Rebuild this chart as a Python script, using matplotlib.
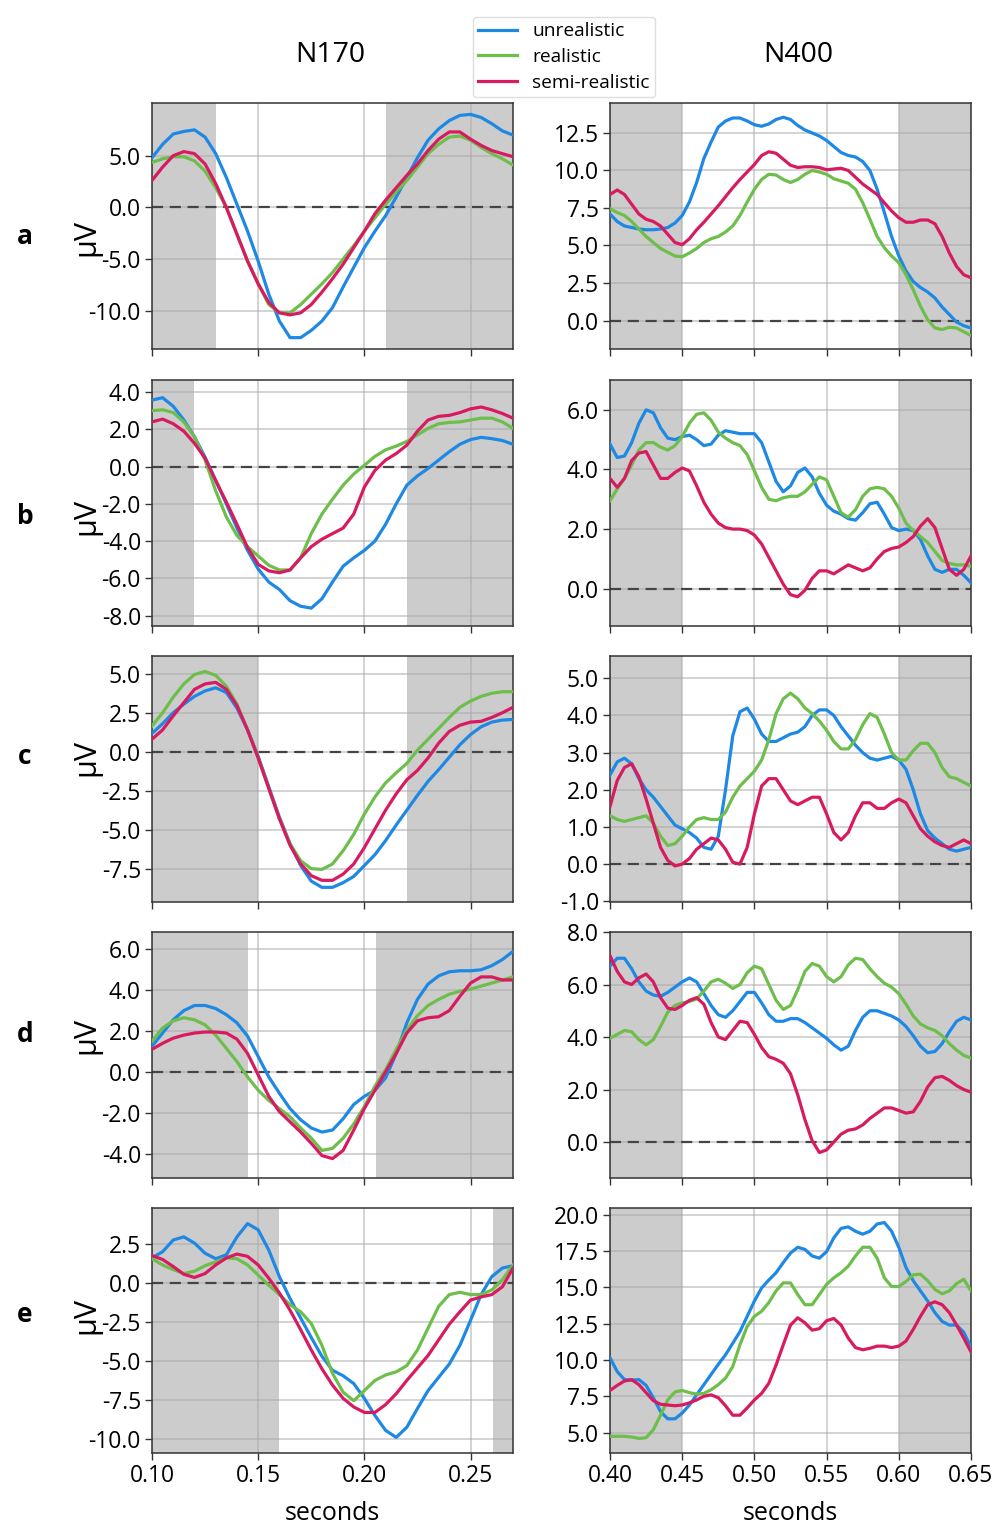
import numpy as np
import matplotlib
matplotlib.use("Agg")
import matplotlib.pyplot as plt

plt.rcParams['font.family'] = ['Open Sans', 'DejaVu Sans']

# sample times (s)
t170 = np.linspace(0.10, 0.27, 35)
t400 = np.linspace(0.40, 0.65, 51)

# ---- row a ----
a170_u = [4.8, 6.1, 7.1, 7.35, 7.5,
          6.8, 5.2, 2.9, 0.3, -2.3,
          -5.2, -8.4, -11.0, -12.6, -12.6,
          -11.9, -11.0, -9.7, -7.7, -5.8,
          -3.9, -2.3, -0.8, 1.0, 2.9,
          4.8, 6.5, 7.6, 8.4, 8.9,
          9.0, 8.7, 8.1, 7.4, 7.0]
a170_r = [4.35, 4.7, 4.9, 4.9, 4.5,
          3.5, 1.9, 0.0, -2.6, -5.2,
          -7.4, -9.4, -10.2, -10.2, -9.4,
          -8.4, -7.4, -6.3, -5.0, -3.7,
          -2.3, -1.0, 0.3, 1.5, 2.6,
          3.9, 5.2, 6.1, 6.8, 6.9,
          6.5, 5.8, 5.2, 4.7, 4.1]
a170_s = [2.6, 3.9, 5.0, 5.4, 5.2,
          4.2, 2.3, 0.0, -2.6, -5.2,
          -7.4, -9.2, -10.2, -10.4, -10.2,
          -9.4, -8.2, -6.9, -5.5, -3.9,
          -2.3, -0.6, 0.7, 1.9, 3.1,
          4.2, 5.5, 6.6, 7.3, 7.3,
          6.6, 6.0, 5.5, 5.2, 4.9]
a400_u = [7.1, 6.6, 6.3, 6.2, 6.1,
          6.05, 6.05, 6.1, 6.2, 6.5,
          7.0, 7.9, 9.2, 10.8, 11.9,
          12.9, 13.3, 13.5, 13.5, 13.3,
          13.05, 12.95, 13.1, 13.4, 13.55,
          13.4, 13.0, 12.7, 12.5, 12.3,
          12.0, 11.6, 11.2, 11.0, 10.9,
          10.6, 10.0, 8.75, 7.2, 5.6,
          4.3, 3.3, 2.6, 2.2, 1.9,
          1.5, 0.9, 0.4, -0.1, -0.35,
          -0.5]
a400_r = [7.45, 7.2, 7.0, 6.6, 6.1,
          5.6, 5.2, 4.8, 4.55, 4.3,
          4.25, 4.5, 4.8, 5.2, 5.45,
          5.6, 5.9, 6.3, 7.0, 7.9,
          8.75, 9.4, 9.75, 9.7, 9.4,
          9.2, 9.4, 9.75, 10.0, 9.9,
          9.75, 9.45, 9.3, 9.15, 8.75,
          7.85, 6.75, 5.6, 4.85, 4.3,
          3.85, 3.05, 2.05, 0.95, 0.05,
          -0.5, -0.6, -0.45, -0.5, -0.75,
          -1.0]
a400_s = [8.4, 8.7, 8.4, 7.75, 7.1,
          6.75, 6.6, 6.3, 5.75, 5.2,
          5.05, 5.45, 6.05, 6.55, 7.1,
          7.65, 8.25, 8.85, 9.4, 9.9,
          10.4, 11.0, 11.25, 11.15, 10.75,
          10.35, 10.2, 10.25, 10.25, 10.2,
          10.05, 10.1, 10.15, 10.0, 9.55,
          9.1, 8.75, 8.4, 7.85, 7.3,
          6.85, 6.55, 6.55, 6.7, 6.7,
          6.45, 5.6, 4.5, 3.6, 3.05,
          2.85]

# ---- row b ----
b170_u = [3.57, 3.7, 3.24, 2.5, 1.6,
          0.5, -0.75, -2.0, -3.3, -4.5,
          -5.5, -6.2, -6.6, -7.2, -7.5,
          -7.6, -7.1, -6.2, -5.35, -4.9,
          -4.5, -4.0, -3.1, -2.0, -1.0,
          -0.5, -0.1, 0.35, 0.8, 1.2,
          1.45, 1.57, 1.5, 1.4, 1.2]
b170_r = [3.0, 3.05, 2.9, 2.4, 1.6,
          0.35, -1.3, -2.7, -3.7, -4.3,
          -4.8, -5.3, -5.55, -5.55, -4.9,
          -3.6, -2.55, -1.75, -1.0, -0.4,
          0.07, 0.55, 0.9, 1.1, 1.35,
          1.7, 2.05, 2.3, 2.37, 2.4,
          2.5, 2.6, 2.6, 2.4, 2.05]
b170_s = [2.4, 2.55, 2.3, 1.9, 1.25,
          0.45, -0.75, -1.9, -3.1, -4.35,
          -5.25, -5.6, -5.7, -5.55, -4.9,
          -4.3, -3.9, -3.6, -3.3, -2.55,
          -1.1, -0.2, 0.35, 0.7, 1.15,
          1.9, 2.5, 2.7, 2.75, 2.9,
          3.1, 3.2, 3.05, 2.85, 2.6]
b400_u = [4.85, 4.4, 4.45, 4.9, 5.55,
          6.0, 5.9, 5.4, 5.05, 5.0,
          5.1, 5.15, 5.0, 4.8, 4.85,
          5.15, 5.3, 5.25, 5.2, 5.2,
          5.2, 4.9, 4.25, 3.6, 3.25,
          3.45, 3.9, 4.05, 3.75, 3.2,
          2.8, 2.6, 2.5, 2.35, 2.3,
          2.55, 2.85, 2.9, 2.5, 2.05,
          1.95, 2.0, 1.95, 1.65, 1.1,
          0.65, 0.55, 0.65, 0.65, 0.45,
          0.2]
b400_r = [2.95, 3.35, 3.7, 4.15, 4.65,
          4.9, 4.9, 4.75, 4.65, 4.8,
          5.1, 5.55, 5.85, 5.9, 5.65,
          5.25, 5.05, 4.9, 4.8, 4.5,
          3.95, 3.4, 3.0, 2.95, 3.05,
          3.1, 3.1, 3.25, 3.5, 3.75,
          3.65, 3.1, 2.55, 2.4, 2.65,
          3.1, 3.35, 3.4, 3.35, 3.1,
          2.7, 2.2, 1.95, 1.75, 1.55,
          1.25, 0.95, 0.85, 0.8, 0.8,
          0.75]
b400_s = [3.7, 3.4, 3.7, 4.3, 4.55,
          4.6, 4.15, 3.7, 3.7, 3.9,
          4.05, 3.95, 3.45, 2.9, 2.5,
          2.2, 2.05, 2.0, 2.0, 1.95,
          1.8, 1.5, 1.05, 0.6, 0.15,
          -0.2, -0.27, -0.05, 0.35, 0.6,
          0.6, 0.5, 0.65, 0.8, 0.7,
          0.6, 0.7, 1.0, 1.25, 1.35,
          1.4, 1.55, 1.75, 2.1, 2.35,
          2.05, 1.35, 0.65, 0.45, 0.65,
          1.1]

# ---- row c ----
c170_u = [1.17, 1.8, 2.5, 3.05, 3.55,
          3.9, 4.1, 3.8, 2.8, 1.4,
          -0.3, -2.25, -4.2, -5.9, -7.3,
          -8.3, -8.7, -8.7, -8.4, -8.0,
          -7.3, -6.6, -5.7, -4.7, -3.75,
          -2.8, -1.9, -1.15, -0.35, 0.45,
          1.1, 1.6, 1.9, 2.03, 2.07]
c170_r = [1.65, 2.5, 3.5, 4.35, 4.95,
          5.15, 4.9, 4.2, 3.05, 1.4,
          -0.4, -2.35, -4.3, -5.9, -7.0,
          -7.5, -7.55, -7.2, -6.35, -5.3,
          -4.0, -2.9, -2.0, -1.35, -0.75,
          0.1, 0.8, 1.5, 2.2, 2.85,
          3.25, 3.55, 3.75, 3.85, 3.85]
c170_s = [0.8, 1.4, 2.3, 3.15, 4.0,
          4.35, 4.45, 4.0, 2.95, 1.4,
          -0.4, -2.35, -4.3, -6.0, -7.2,
          -7.95, -8.25, -8.25, -7.85, -7.2,
          -6.15, -4.95, -3.75, -2.7, -1.8,
          -1.2, -0.4, 0.55, 1.3, 1.7,
          1.9, 1.95, 2.2, 2.5, 2.85]
c400_u = [2.4, 2.75, 2.85, 2.7, 2.3,
          2.0, 1.8, 1.55, 1.3, 1.05,
          0.95, 0.85, 0.7, 0.45, 0.4,
          0.75, 2.0, 3.45, 4.1, 4.2,
          3.9, 3.5, 3.3, 3.3, 3.4,
          3.5, 3.55, 3.7, 4.0, 4.15,
          4.15, 4.0, 3.7, 3.45, 3.2,
          3.0, 2.85, 2.8, 2.85, 2.9,
          2.8, 2.55, 2.0, 1.35, 0.9,
          0.7, 0.55, 0.4, 0.35, 0.4,
          0.45]
c400_r = [1.3, 1.2, 1.15, 1.2, 1.25,
          1.3, 1.1, 0.75, 0.5, 0.55,
          0.75, 1.0, 1.2, 1.25, 1.2,
          1.2, 1.4, 1.8, 2.1, 2.3,
          2.5, 2.8, 3.35, 4.05, 4.45,
          4.6, 4.45, 4.2, 4.05, 3.85,
          3.6, 3.3, 3.1, 3.1, 3.35,
          3.75, 4.05, 3.95, 3.5, 3.0,
          2.8, 2.8, 3.05, 3.25, 3.25,
          3.0, 2.6, 2.35, 2.3, 2.2,
          2.1]
c400_s = [1.55, 2.25, 2.6, 2.7, 2.35,
          1.75, 1.1, 0.45, 0.1, -0.05,
          0.0, 0.15, 0.4, 0.55, 0.7,
          0.65, 0.4, 0.05, 0.0, 0.45,
          1.35, 2.1, 2.3, 2.3, 2.0,
          1.7, 1.6, 1.7, 1.8, 1.8,
          1.35, 0.85, 0.65, 0.85, 1.3,
          1.65, 1.65, 1.5, 1.5, 1.65,
          1.75, 1.65, 1.3, 0.95, 0.75,
          0.6, 0.5, 0.45, 0.55, 0.65,
          0.55]

# ---- row d ----
d170_u = [1.25, 1.9, 2.55, 3.0, 3.25,
          3.25, 3.1, 2.8, 2.4, 1.75,
          0.75, -0.25, -1.05, -1.8, -2.35,
          -2.75, -2.95, -2.85, -2.3, -1.6,
          -1.2, -0.9, -0.3, 0.9, 2.4,
          3.55, 4.3, 4.7, 4.9, 4.95,
          4.95, 5.0, 5.2, 5.5, 5.9]
d170_r = [1.5, 2.15, 2.5, 2.65, 2.55,
          2.3, 1.8, 1.15, 0.5, -0.25,
          -0.9, -1.4, -1.8, -2.2, -2.75,
          -3.25, -3.85, -3.75, -3.25, -2.55,
          -1.7, -0.7, 0.1, 1.1, 2.05,
          2.75, 3.25, 3.55, 3.8, 3.95,
          4.05, 4.2, 4.35, 4.5, 4.65]
d170_s = [1.1, 1.4, 1.65, 1.8, 1.9,
          1.95, 1.95, 1.9, 1.6, 0.9,
          -0.15, -1.2, -1.95, -2.45, -2.95,
          -3.5, -4.1, -4.25, -3.85, -2.85,
          -1.8, -0.9, 0.0, 0.9, 1.9,
          2.5, 2.65, 2.7, 3.0, 3.7,
          4.35, 4.65, 4.65, 4.5, 4.5]
d400_u = [6.7, 7.0, 7.0, 6.6, 6.1,
          5.75, 5.6, 5.55, 5.7, 5.9,
          6.1, 6.25, 6.1, 5.65, 5.2,
          4.85, 4.75, 5.0, 5.35, 5.7,
          5.7, 5.3, 4.85, 4.6, 4.6,
          4.7, 4.7, 4.55, 4.35, 4.15,
          3.95, 3.7, 3.5, 3.65, 4.25,
          4.75, 5.0, 5.0, 4.9, 4.8,
          4.65, 4.4, 4.05, 3.65, 3.4,
          3.45, 3.75, 4.2, 4.6, 4.75,
          4.65]
d400_r = [3.95, 4.1, 4.25, 4.2, 3.9,
          3.7, 3.9, 4.4, 4.95, 5.2,
          5.3, 5.35, 5.45, 5.75, 6.1,
          6.2, 6.05, 5.85, 6.0, 6.45,
          6.7, 6.6, 6.0, 5.4, 5.05,
          5.2, 5.8, 6.5, 6.8, 6.7,
          6.3, 6.1, 6.3, 6.75, 7.0,
          6.95, 6.6, 6.3, 6.05, 5.9,
          5.65, 5.25, 4.8, 4.5, 4.35,
          4.25, 4.05, 3.75, 3.5, 3.3,
          3.2]
d400_s = [7.1, 6.5, 6.1, 6.0, 6.25,
          6.4, 6.1, 5.5, 5.1, 5.05,
          5.2, 5.4, 5.5, 5.25, 4.55,
          4.0, 3.9, 4.25, 4.6, 4.55,
          4.1, 3.6, 3.25, 3.15, 3.0,
          2.6, 1.8, 0.85, 0.05, -0.4,
          -0.3, 0.0, 0.3, 0.45, 0.5,
          0.65, 0.9, 1.1, 1.3, 1.3,
          1.2, 1.1, 1.15, 1.55, 2.1,
          2.45, 2.5, 2.35, 2.15, 2.0,
          1.9]

# ---- row e ----
e170_u = [1.6, 2.0, 2.75, 2.95, 2.55,
          1.9, 1.55, 1.8, 2.95, 3.8,
          3.4, 2.1, 0.4, -1.0, -2.25,
          -3.5, -4.7, -5.6, -5.95, -6.45,
          -7.4, -8.5, -9.45, -9.9, -9.25,
          -8.05, -6.9, -6.05, -5.2, -4.0,
          -2.4, -0.75, 0.4, 0.95, 1.1]
e170_r = [1.55, 1.15, 0.85, 0.6, 0.75,
          1.1, 1.35, 1.6, 1.55, 1.15,
          0.5, -0.15, -0.75, -1.4, -1.85,
          -2.6, -4.0, -5.8, -7.0, -7.55,
          -6.9, -6.25, -5.9, -5.7, -5.3,
          -4.3, -2.9, -1.5, -0.75, -0.6,
          -0.75, -0.75, -0.45, 0.2, 1.15]
e170_s = [1.75, 1.5, 1.05, 0.55, 0.35,
          0.6, 1.15, 1.6, 1.85, 1.7,
          1.15, 0.3, -0.65, -1.75, -3.0,
          -4.3, -5.5, -6.55, -7.4, -7.95,
          -8.3, -8.3, -7.8, -7.1, -6.25,
          -5.45, -4.65, -3.65, -2.65, -1.85,
          -1.1, -0.9, -0.75, -0.25, 0.95]
e400_u = [10.15, 9.2, 8.65, 8.6, 8.65,
          8.25, 7.4, 6.45, 5.95, 5.95,
          6.35, 6.9, 7.6, 8.3, 9.0,
          9.7, 10.35, 11.15, 11.95, 13.0,
          14.05, 14.95, 15.5, 16.0, 16.7,
          17.35, 17.75, 17.6, 17.15, 17.0,
          17.45, 18.4, 19.05, 19.15, 18.85,
          18.65, 18.85, 19.35, 19.45, 18.85,
          17.75, 16.35, 15.45, 14.75, 14.05,
          13.25, 12.65, 12.4, 12.4, 11.9,
          10.85]
e400_r = [4.75, 4.75, 4.75, 4.7, 4.6,
          4.65, 5.2, 6.2, 7.25, 7.8,
          7.9, 7.75, 7.65, 7.7, 7.95,
          8.3, 8.75, 9.55, 11.05, 12.3,
          13.0, 13.35, 13.95, 14.75, 15.3,
          15.3, 14.5, 13.8, 13.8, 14.5,
          15.2, 15.65, 16.0, 16.45, 17.15,
          17.75, 17.75, 17.0, 15.65, 15.05,
          15.05, 15.4, 15.85, 15.9, 15.45,
          14.85, 14.55, 14.75, 15.25, 15.55,
          14.75]
e400_s = [7.9, 8.25, 8.55, 8.65, 8.3,
          7.75, 7.2, 6.95, 6.9, 6.85,
          6.9, 7.05, 7.25, 7.5, 7.6,
          7.4, 6.85, 6.2, 6.2, 6.7,
          7.25, 7.7, 8.4, 9.65, 11.05,
          12.4, 12.9, 12.55, 12.05, 12.15,
          12.7, 12.85, 12.4, 11.5, 10.85,
          10.7, 10.8, 10.95, 10.95, 10.85,
          10.95, 11.3, 12.1, 13.0, 13.8,
          14.0, 13.8, 13.25, 12.4, 11.5,
          10.55]

row_labels = ['a', 'b', 'c', 'd', 'e']
series_names = ['unrealistic', 'realistic', 'semi-realistic']
colors = ['#1E88E5', '#6DBE4B', '#D81B60']

n170 = [(a170_u, a170_r, a170_s), (b170_u, b170_r, b170_s), (c170_u, c170_r, c170_s),
        (d170_u, d170_r, d170_s), (e170_u, e170_r, e170_s)]
n400 = [(a400_u, a400_r, a400_s), (b400_u, b400_r, b400_s), (c400_u, c400_r, c400_s),
        (d400_u, d400_r, d400_s), (e400_u, e400_r, e400_s)]

# shaded (outside-window) spans
shade170 = [[(0.10, 0.13), (0.21, 0.27)],
            [(0.10, 0.12), (0.22, 0.27)],
            [(0.10, 0.15), (0.22, 0.27)],
            [(0.10, 0.145), (0.2055, 0.27)],
            [(0.10, 0.16), (0.2605, 0.27)]]
shade400 = [(0.40, 0.45), (0.60, 0.65)]

ylim170 = [(-13.7, 10.1), (-8.56, 4.65), (-9.64, 6.14), (-5.2, 6.85), (-10.9, 4.8)]
ylim400 = [(-1.9, 14.5), (-1.25, 7.0), (-1.02, 5.6), (-1.37, 8.0), (3.6, 20.45)]
yticks170 = [[-10, -5, 0, 5], [-8, -6, -4, -2, 0, 2, 4], [-7.5, -5, -2.5, 0, 2.5, 5],
             [-4, -2, 0, 2, 4, 6], [-10, -7.5, -5, -2.5, 0, 2.5]]
yticks400 = [[0, 2.5, 5, 7.5, 10, 12.5], [0, 2, 4, 6], [-1, 0, 1, 2, 3, 4, 5],
             [0, 2, 4, 6, 8], [5, 7.5, 10, 12.5, 15, 17.5, 20]]
xticks170 = [0.10, 0.15, 0.20, 0.25]
xticks400 = [0.40, 0.45, 0.50, 0.55, 0.60, 0.65]

W, H = 995, 1538
fig = plt.figure(figsize=(W / 100, H / 100), dpi=100)

rows_px = [(103, 349), (380, 626), (656, 902), (932, 1178), (1208, 1453)]
label_y = [237, 516, 757, 1035, 1315]


def style_ax(ax, xlim, ylim, xticks, yticks, spans, show_x):
    for x0, x1 in spans:
        ax.axvspan(x0, x1, color='#cccccc', lw=0, zorder=0)
    ax.axhline(0, color='#444444', ls='--', lw=1.6, dashes=(5, 3), zorder=2)
    ax.set_xlim(*xlim)
    ax.set_ylim(*ylim)
    ax.set_xticks(xticks)
    ax.set_yticks(yticks)
    ax.yaxis.set_major_formatter(matplotlib.ticker.FormatStrFormatter('%.1f'))
    ax.xaxis.set_major_formatter(matplotlib.ticker.FormatStrFormatter('%.2f'))
    ax.grid(True, color='#aaaaaa', alpha=0.65, lw=1.1)
    ax.tick_params(labelsize=16.5, length=5, width=1, color='#333333', pad=3)
    if not show_x:
        ax.tick_params(axis='x', labelbottom=False)
    for sp in ax.spines.values():
        sp.set_color('#333333')
        sp.set_linewidth(1.1)


handles = []
for i in range(5):
    top, bot = rows_px[i]
    h = (bot - top) / H
    y0 = 1 - bot / H
    axl = fig.add_axes([152 / W, y0, 361 / W, h])
    axr = fig.add_axes([610 / W, y0, 361 / W, h])
    last = (i == 4)
    style_ax(axl, (0.10, 0.27), ylim170[i], xticks170, yticks170[i], shade170[i], last)
    style_ax(axr, (0.40, 0.65), ylim400[i], xticks400, yticks400[i], shade400, last)
    for vals, c, name in zip(n170[i], colors, series_names):
        ln, = axl.plot(t170, vals, color=c, lw=2.3, label=name, zorder=3)
        if i == 0:
            handles.append(ln)
    for vals, c in zip(n400[i], colors):
        axr.plot(t400, vals, color=c, lw=2.3, zorder=3)
    if last:
        axl.set_xlabel('seconds', fontsize=18, labelpad=9)
        axr.set_xlabel('seconds', fontsize=18, labelpad=9)
    fig.text(25 / W, 1 - label_y[i] / H, row_labels[i], fontsize=19, fontweight='bold',
             ha='center', va='center')
    fig.text(86 / W, 1 - label_y[i] / H, 'μV', fontsize=22, rotation=90,
             ha='center', va='center')

fig.text(330 / W, 1 - 55 / H, 'N170', fontsize=20.5, ha='center', va='center')
fig.text(798 / W, 1 - 55 / H, 'N400', fontsize=20.5, ha='center', va='center')

fig.legend(handles=handles, loc='upper center', bbox_to_anchor=(564 / W, 1 - 7 / H),
           fontsize=13.8, frameon=True, handlelength=2.0, borderpad=0.3,
           labelspacing=0.4, handletextpad=0.8, edgecolor='#dddddd', framealpha=1)

fig.savefig('out.png', dpi=100)
